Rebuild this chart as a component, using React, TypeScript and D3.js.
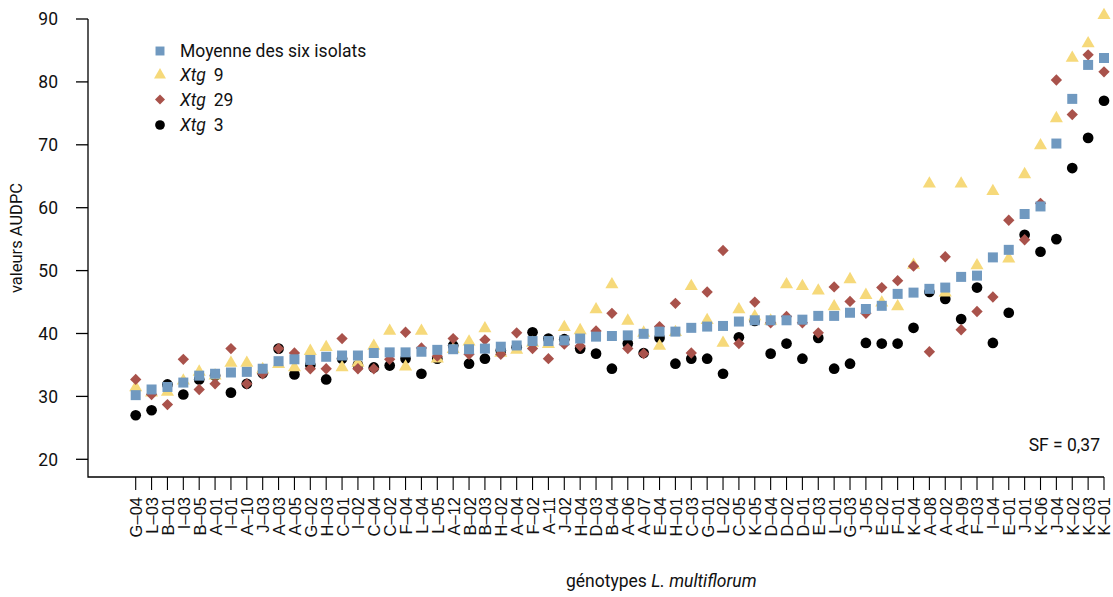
import React from "react";
import * as d3 from "d3";

const categories = ["G–04","L–03","B–01","I–03","B–05","A–01","I–01","A–10","J–03","A–03","A–05","G–02","H–03","C–01","I–02","C–04","C–02","F–04","L–04","L–05","A–12","B–02","B–03","H–02","A–04","F–02","A–11","J–02","H–04","D–03","B–04","A–06","A–07","E–04","H–01","C–03","G–01","L–02","C–05","K–05","D–04","D–02","D–01","E–03","L–01","G–03","J–05","E–02","F–01","K–04","A–08","A–02","A–09","F–03","I–04","E–01","J–01","K–06","J–04","K–02","K–03","K–01"];

const meanValues = [30.2,31.1,31.5,32.2,33.3,33.6,33.8,33.9,34.4,35.6,35.9,35.8,36.3,36.5,36.5,36.9,37.0,37.0,37.1,37.4,37.5,37.5,37.6,37.9,38.1,38.8,38.8,38.9,39.2,39.5,39.6,39.7,39.95,40.3,40.3,40.9,41.1,41.2,41.9,42.1,42.1,42.1,42.2,42.8,42.8,43.3,43.9,44.4,46.3,46.5,47.1,47.3,49.0,49.2,52.1,53.3,59.0,60.2,70.2,77.3,82.7,83.8];

const xtg9Values = [31.4,30.6,30.7,32.5,33.9,33.3,35.3,35.3,34.3,35.1,34.6,37.2,37.8,34.6,35.3,38.0,40.4,34.7,40.4,36.0,37.5,38.7,40.8,36.9,37.4,38.5,38.3,41.0,40.5,43.8,47.8,42.0,40.1,38.0,40.2,47.5,42.1,38.5,43.8,42.7,42.0,47.8,47.5,46.8,44.3,48.6,46.1,44.9,44.3,50.9,63.8,46.5,63.8,50.8,62.6,51.9,65.3,69.9,74.2,83.8,86.1,90.6];

const xtg29Values = [32.7,30.3,28.7,35.9,31.1,32.0,37.6,32.0,33.6,37.6,36.9,34.4,34.4,39.2,34.4,34.4,35.9,40.2,37.7,36.4,39.2,36.7,39.0,36.7,40.1,37.6,36.0,38.3,38.0,40.4,43.2,37.6,36.8,41.1,44.8,36.9,46.6,53.2,38.4,45.0,41.7,42.7,41.7,40.1,47.4,45.1,43.2,47.3,48.4,50.7,37.1,52.2,40.6,43.5,45.8,58.0,54.9,60.7,80.3,74.8,84.3,81.6];

const xtg3Values = [27.0,27.8,31.9,30.3,32.7,33.3,30.6,32.0,33.7,37.6,33.5,35.0,32.7,36.0,35.0,34.6,34.9,36.0,33.6,36.0,38.1,35.2,36.0,37.3,37.8,40.2,39.2,39.1,37.6,36.8,34.4,38.4,36.9,39.3,35.2,36.0,36.0,33.6,39.4,42.0,36.8,38.4,36.0,39.3,34.4,35.2,38.5,38.4,38.4,40.9,46.6,45.5,42.3,47.3,38.5,43.3,55.7,53.0,55.0,66.3,71.1,77.0];

const yTicks = [20, 30, 40, 50, 60, 70, 80, 90];

const W = 1113, H = 597;
const axisX = 88, axisY = 477;
const BLUE = "#7099c0", YELLOW = "#f6d97a", RED = "#a9524b", BLACK = "#000000";
const FONT = "Roboto, 'Noto Sans', sans-serif";

export default function App() {
  const x = d3.scalePoint<string>().domain(categories).range([135.7, 1104]);
  const y = d3.scaleLinear().domain([20, 90]).range([459.3, 19]);

  const sq = d3.symbol().type(d3.symbolSquare).size(100)()!;
  const dia = d3.symbol().type(d3.symbolSquare).size(64)()!;
  const tri = d3.symbol().type(d3.symbolTriangle).size(74)()!;
  const circ = d3.symbol().type(d3.symbolCircle).size(90)()!;

  const sqL = d3.symbol().type(d3.symbolSquare).size(80)()!;
  const diaL = d3.symbol().type(d3.symbolSquare).size(50)()!;
  const triL = d3.symbol().type(d3.symbolTriangle).size(62)()!;
  const circL = d3.symbol().type(d3.symbolCircle).size(74)()!;

  const layer = (vals: number[], path: string, fill: string, rot = 0) =>
    vals.map((v, i) => (
      <path
        key={i}
        d={path}
        fill={fill}
        transform={`translate(${x(categories[i])},${y(v)})${rot ? ` rotate(${rot})` : ""}`}
      />
    ));

  return (
    <svg width={W} height={H} style={{ position: "absolute", left: 0, top: 0, background: "#fff" }}>
      <rect width={W} height={H} fill="#fff" />
      {/* axes */}
      <path d={`M${axisX},${y(90)}V${axisY}H${x(categories[categories.length - 1])}`} fill="none" stroke="#000" strokeWidth={1.3} />
      {yTicks.map((t) => (
        <g key={t}>
          <line x1={76} x2={axisX} y1={y(t)} y2={y(t)} stroke="#000" strokeWidth={1.3} />
          <text x={58} y={y(t)} dy="0.36em" textAnchor="end" fontFamily={FONT} fontSize={17.5} fill="#111">{t}</text>
        </g>
      ))}
      {categories.map((c) => (
        <g key={c}>
          <line x1={x(c)} x2={x(c)} y1={axisY} y2={490} stroke="#000" strokeWidth={1.1} />
          <text
            transform={`translate(${x(c)! + 0.5},497) rotate(-90)`}
            textAnchor="end"
            dy="0.36em"
            fontFamily="'Liberation Sans', Arial, sans-serif"
            fontSize={16.5}
            fill="#111"
          >{c}</text>
        </g>
      ))}
      <text transform="translate(22,238) rotate(-90)" textAnchor="middle" fontFamily={FONT} fontSize={16.5} fill="#111">valeurs AUDPC</text>
      <text x={566} y={587} fontFamily={FONT} fontSize={17.5} fill="#111">
        génotypes <tspan fontStyle="italic">L. multiflorum</tspan>
      </text>
      <text x={1100} y={451} textAnchor="end" fontFamily={FONT} fontSize={17.5} fill="#111">SF = 0,37</text>

      {/* data */}
      <g>{layer(xtg3Values, circ, BLACK)}</g>
      <g>{layer(xtg9Values, tri, YELLOW)}</g>
      <g>{layer(xtg29Values, dia, RED, 45)}</g>
      <g>{layer(meanValues, sq, BLUE)}</g>

      {/* legend */}
      <g fontFamily={FONT} fontSize={17.5} fill="#111">
        <path d={sqL} fill={BLUE} transform="translate(160,51)" />
        <text x={180} y={51} dy="0.36em">Moyenne des six isolats</text>
        <path d={triL} fill={YELLOW} transform="translate(160,75)" />
        <text x={180} y={75} dy="0.36em"><tspan fontStyle="italic">Xtg</tspan><tspan dx={8}>9</tspan></text>
        <path d={diaL} fill={RED} transform="translate(160,99.5) rotate(45)" />
        <text x={180} y={99.5} dy="0.36em"><tspan fontStyle="italic">Xtg</tspan><tspan dx={8}>29</tspan></text>
        <path d={circL} fill={BLACK} transform="translate(160,125)" />
        <text x={180} y={125} dy="0.36em"><tspan fontStyle="italic">Xtg</tspan><tspan dx={8}>3</tspan></text>
      </g>
    </svg>
  );
}
